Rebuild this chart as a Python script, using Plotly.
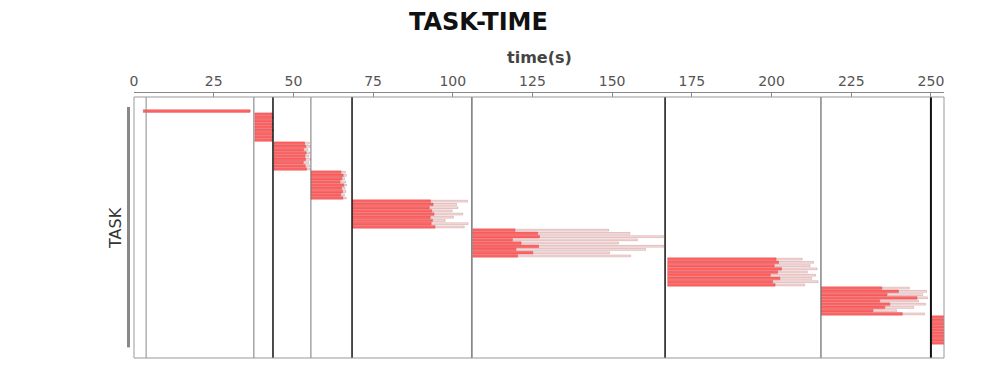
import plotly.graph_objects as go

# ---- data ----
stage_start = [2.9, 37.9, 43.9, 55.5, 68.6, 106.3, 167.4, 215.6, 250.3]
stage_bounds = [3.8, 37.6, 43.6, 55.5, 68.4, 106.0, 166.6, 215.5, 250.0]

main_end = [
    [36.4],
    [43.3, 43.5, 43.2, 43.4, 43.3, 43.5, 43.2, 43.4, 43.3],
    [53.5, 53.9, 53.2, 54.0, 53.6, 53.8, 53.1, 53.7, 54.1],
    [64.9, 65.6, 65.2, 64.6, 65.8, 65.1, 65.4, 64.8, 65.5],
    [93.0, 93.8, 92.6, 93.4, 94.1, 92.9, 93.6, 93.2, 94.4],
    [119.5, 126.6, 127.2, 118.7, 121.4, 126.9, 119.8, 125.1, 120.3],
    [201.4, 202.2, 200.8, 203.1, 201.9, 199.6, 202.6, 200.3, 201.1],
    [234.6, 239.8, 236.2, 245.6, 233.9, 237.1, 235.5, 231.8, 241.0],
    [254.2, 254.2, 254.2, 254.2, 254.2, 254.2, 254.2, 254.2, 254.2],
]
tail_end = [
    [36.4],
    [43.5, 43.7, 43.4, 43.6, 43.5, 43.7, 43.4, 43.6, 43.5],
    [55.0, 55.3, 54.6, 55.2, 54.9, 55.4, 54.8, 55.1, 55.3],
    [66.3, 66.6, 66.1, 66.4, 66.7, 66.2, 66.5, 66.0, 66.6],
    [104.6, 101.2, 101.6, 99.8, 103.1, 100.2, 97.6, 104.8, 103.6],
    [148.9, 155.6, 166.1, 157.9, 152.0, 166.2, 160.5, 149.2, 155.8],
    [209.6, 213.2, 212.1, 214.3, 211.2, 213.8, 212.6, 214.6, 210.4],
    [243.2, 248.6, 247.4, 248.9, 246.1, 248.3, 244.6, 239.2, 248.0],
    [254.2, 254.2, 254.2, 254.2, 254.2, 254.2, 254.2, 254.2, 254.2],
]
x_ticks = [0, 25, 50, 75, 100, 125, 150, 175, 200, 225, 250]

# ---- build rows ----
rows, m_base, m_len, t_base, t_len = [], [], [], [], []
r = 0
for s, start in enumerate(stage_start):
    for me, te in zip(main_end[s], tail_end[s]):
        rows.append(r)
        m_base.append(start)
        m_len.append(me - start)
        t_base.append(me)
        t_len.append(max(te - me, 0))
        r += 1

fig = go.Figure()
fig.add_trace(go.Bar(
    orientation="h", y=rows, x=t_len, base=t_base, width=0.55,
    marker=dict(color="rgba(255,200,200,0.6)",
                line=dict(color="rgba(170,115,115,0.7)", width=0.5)),
    showlegend=False, hoverinfo="skip"))
fig.add_trace(go.Bar(
    orientation="h", y=rows, x=m_len, base=m_base, width=0.85,
    marker=dict(color="rgba(255,82,82,0.9)",
                line=dict(color="rgba(205,70,70,0.7)", width=0.5)),
    showlegend=False, hoverinfo="skip"))

line_colors = ["#888", "#777", "#111", "#777", "#111", "#555", "#111", "#666", "#111"]
line_widths = [1, 1, 1.5, 1, 1.5, 1.2, 1.5, 1.2, 2]
shapes = []
for xb, c, w in zip(stage_bounds, line_colors, line_widths):
    shapes.append(dict(type="line", xref="x", yref="y domain", x0=xb, x1=xb,
                       y0=0, y1=1, line=dict(color=c, width=w)))
shapes.append(dict(type="rect", xref="x domain", yref="y domain", x0=0, x1=1,
                   y0=0, y1=1, line=dict(color="#999", width=1)))
shapes.append(dict(type="line", xref="paper", yref="paper", x0=-5.5/810, x1=-5.5/810,
                   y0=0.04, y1=0.9436, line=dict(color="#888", width=3)))

fig.update_layout(
    width=986, height=382,
    margin=dict(l=134, r=42, t=92, b=24, autoexpand=False),
    paper_bgcolor="white", plot_bgcolor="white",
    barmode="overlay",
    font=dict(family="DejaVu Sans", color="#555"),
    shapes=shapes,
    xaxis=dict(side="top", anchor="free", position=1, range=[0, 254.1],
               tickvals=x_ticks, ticks="inside", ticklen=4, tickcolor="#888",
               showline=True, linecolor="#888", linewidth=1,
               showgrid=False, zeroline=False, automargin=False,
               tickfont=dict(size=14, color="#555")),
    yaxis=dict(domain=[0, 261/266], range=[76.7, -4.35], showticklabels=False,
               showgrid=False, zeroline=False, showline=False, automargin=False),
    annotations=[
        dict(text="<b>TASK-TIME</b>", xref="paper", yref="paper",
             x=(478-134)/810, y=(358-22)/266, xanchor="center", yanchor="middle",
             showarrow=False, font=dict(size=24, color="#111")),
        dict(text="<b>time(s)</b>", xref="paper", yref="paper",
             x=0.5, y=(358-57)/266, xanchor="center", yanchor="middle",
             showarrow=False, font=dict(size=16, color="#444")),
        dict(text="TASK", xref="paper", yref="paper", textangle=-90,
             x=(115-134)/810, y=(358-228)/266, xanchor="center", yanchor="middle",
             showarrow=False, font=dict(size=16, color="#333")),
    ],
)

fig.write_html("out.html", config={"displayModeBar": False},
               post_script="document.body.style.margin='0';")
